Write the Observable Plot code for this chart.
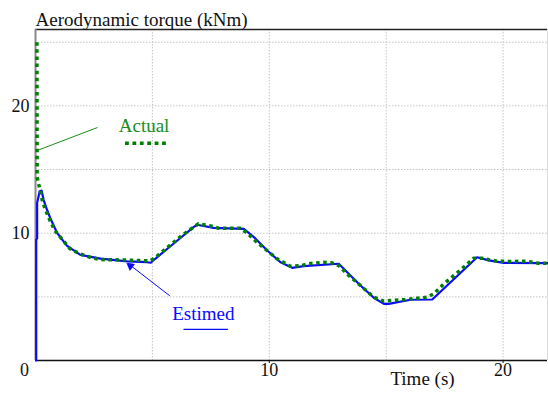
<!DOCTYPE html>
<html><head><meta charset="utf-8">
<script src="https://cdn.jsdelivr.net/npm/d3@7"></script>
<script src="https://cdn.jsdelivr.net/npm/@observablehq/plot@0.6"></script>
<style>body{margin:0;background:#fff} #chart text{font-family:serif !important}</style>
</head><body><div id="chart"></div>
<script>
const actualTime = [0.06,0.07,0.15,0.22,0.29,0.41,0.62,0.83,1.12,1.48,1.9,2.33,2.76,3.33,4.05,4.9,5.12,5.62,6.26,6.76,6.97,7.55,7.83,8.76,9.04,9.47,9.9,10.33,10.9,11.4,11.68,12.33,12.68,12.97,13.4,13.9,14.47,14.9,15.25,15.82,16.75,17.04,17.47,17.9,18.32,18.75,19.1,19.39,19.75,20.4,20.96,21.5,21.9];
const actualTorque = [25,14.4,13.75,13.2,12.57,11.9,11.0,10.2,9.56,8.77,8.38,8.11,7.93,7.91,7.88,7.82,8.07,8.85,9.82,10.47,10.74,10.55,10.39,10.39,10.03,9.29,8.64,7.99,7.41,7.46,7.6,7.72,7.67,7.46,6.68,5.89,4.97,4.66,4.71,4.79,4.97,5.24,6.03,6.68,7.33,8.04,8.04,7.91,7.8,7.78,7.8,7.64,7.64];
const estTime = [0.03,0.03,0.07,0.07,0.18,0.26,0.35,0.5,0.64,0.93,1.35,1.92,2.78,3.92,4.77,4.93,5.12,5.9,6.76,6.91,7.62,8.91,9.34,9.91,10.48,10.98,11.47,12.97,13.47,13.9,14.47,14.9,15.11,16.04,16.97,18.89,19.39,20.03,21.9];
const estTorque = [0,9.5,9.6,12.4,13.3,13.35,12.6,11.8,11.15,10.0,9.0,8.3,8.0,7.78,7.72,7.68,7.99,9.17,10.47,10.66,10.42,10.34,9.69,8.64,7.72,7.28,7.41,7.6,6.68,5.89,4.93,4.45,4.45,4.77,4.79,8.11,7.86,7.67,7.65];
const xTicks = [10, 20];
const yTicks = [10, 20];
const gridXValues = [5, 10, 15, 20];
const gridYValues = [5, 10, 15, 20, 25];
const titleText = "Aerodynamic torque (kNm)";
const xTitleText = "Time (s)";
const seriesNames = ["Actual", "Estimed"];

const actual = actualTime.map((t, i) => ({t, v: actualTorque[i]}));
const estimated = estTime.map((t, i) => ({t, v: estTorque[i]}));

const GREEN = "#008000", GREEN_TXT = "#1b8c1b", BLUE = "#0a0aff";
const SERIF = "serif";

const chart = Plot.plot({
  width: 548, height: 401,
  marginLeft: 35, marginRight: 1, marginTop: 29, marginBottom: 41,
  style: {fontSize: "18px", fontFamily: SERIF, background: "white", overflow: "visible", color: "#111"},
  x: {domain: [0, 21.9], ticks: xTicks, tickSize: 3, tickPadding: 0, label: null},
  y: {domain: [0, 26], ticks: yTicks, tickSize: 0, tickPadding: 6, label: null},
  marks: [
    Plot.ruleY(gridYValues, {stroke: "#c4c4c4", strokeDasharray: "1.5,1.5", strokeWidth: 1}),
    Plot.ruleX(gridXValues, {stroke: "#c4c4c4", strokeDasharray: "1.5,1.5", strokeWidth: 1}),
    Plot.ruleX([21.9], {stroke: "#dddddd", strokeWidth: 1}),
    Plot.ruleY([26], {stroke: "#222", strokeWidth: 1.5}),
    Plot.ruleY([0], {stroke: "#111", strokeWidth: 1.5}),
    Plot.ruleX([0], {stroke: "#8a8a8a", strokeWidth: 2}),
    Plot.line(estimated, {x: "t", y: "v", stroke: BLUE, strokeWidth: 2.2, curve: "linear"}),
    Plot.line(actual, {x: "t", y: "v", stroke: GREEN, strokeWidth: 3.5, strokeDasharray: "3.5,3.6", strokeLinecap: "butt", curve: "linear"}),
    Plot.link([{x1: 0.08, y1: 16.5, x2: 2.65, y2: 18.3}], {x1: "x1", y1: "y1", x2: "x2", y2: "y2", stroke: GREEN_TXT, strokeWidth: 1}),
    Plot.text([seriesNames[0]], {x: () => 3.56, y: () => 18.39, text: d => d, fill: GREEN_TXT, fontSize: 19, fontFamily: SERIF, textAnchor: "start"}),
    Plot.link([{x1: 3.83, x2: 5.59, y: 17.07}], {x1: "x1", x2: "x2", y1: "y", y2: "y", stroke: GREEN, strokeWidth: 3.5, strokeDasharray: "3.8,3.6", strokeLinecap: "butt"}),
    Plot.arrow([{x1: 5.73, y1: 5.1, x2: 3.97, y2: 7.6}], {x1: "x1", y1: "y1", x2: "x2", y2: "y2", stroke: BLUE, strokeWidth: 1, headLength: 7, bend: 0}),
    Plot.dot([{x: 4.06, y: 7.42}], {x: "x", y: "y", symbol: "triangle", r: 3.2, fill: BLUE, stroke: "none", rotate: -53}),
    Plot.text([seriesNames[1]], {x: () => 5.85, y: () => 3.68, text: d => d, fill: BLUE, fontSize: 19, fontFamily: SERIF, textAnchor: "start"}),
    Plot.link([{x1: 6.33, x2: 8.23, y: 2.44}], {x1: "x1", x2: "x2", y1: "y", y2: "y", stroke: BLUE, strokeWidth: 1.3}),
    Plot.text([0], {x: d => d, y: () => 0, text: d => String(d), dx: -11, dy: 10, fontSize: 18, fontFamily: SERIF, fill: "#111"}),
    Plot.text([titleText], {frameAnchor: "top-left", text: d => d, dy: -16.8, fontSize: 19, fontFamily: SERIF, textAnchor: "start", fill: "#111"}),
    Plot.text([xTitleText], {x: () => 15.18, y: () => 0, text: d => d, dy: 18.2, fontSize: 19, fontFamily: SERIF, textAnchor: "start", fill: "#111"})
  ]
});
chart.setAttribute("font-family", SERIF);
chart.querySelectorAll("text").forEach(t => t.setAttribute("font-family", SERIF));
document.getElementById("chart").appendChild(chart);
</script>
</body></html>
